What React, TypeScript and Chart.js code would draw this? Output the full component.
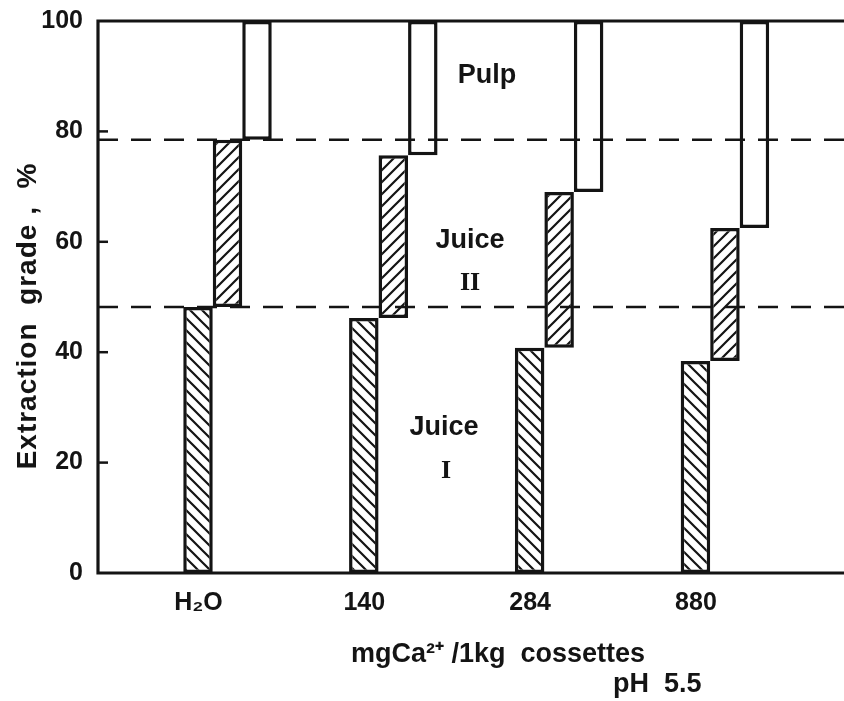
import { useEffect, useRef } from 'react';
import { Chart, registerables } from 'chart.js';

Chart.register(...registerables);

// ---------- data ----------
const categories = ['H₂O', '140', '284', '880'];
const juiceITop = [48.2, 46.2, 40.8, 38.4];
const juiceIITop = [78.5, 75.7, 69.0, 62.5];
const pulpTop = [100, 100, 100, 100];
const yTickValues = [0, 20, 40, 60, 80, 100];
const referenceLines = [48.2, 78.5];
const yTitle = 'Extraction  grade ,  %';
const xTitle = 'mgCa²⁺ /1kg  cossettes';
const noteText = 'pH  5.5';
const regionText = ['Pulp', 'Juice', 'II', 'Juice', 'I'];
const regionX = [2.565, 2.463, 2.463, 2.306, 2.318];
const regionY = [88.8, 58.9, 51.3, 25.0, 17.2];

const INK = '#141414';
const FONT = "'Liberation Sans', Arial, sans-serif";

function hatch(dir: 'fwd' | 'back'): CanvasPattern | string {
  const s = 12;
  const c = document.createElement('canvas');
  c.width = s;
  c.height = s;
  const g = c.getContext('2d');
  if (!g) return '#fff';
  g.fillStyle = '#fff';
  g.fillRect(0, 0, s, s);
  g.strokeStyle = INK;
  g.lineWidth = 2.2;
  g.beginPath();
  if (dir === 'fwd') {
    g.moveTo(-2, s + 2); g.lineTo(s + 2, -2);
    g.moveTo(-2, 2); g.lineTo(2, -2);
    g.moveTo(s - 2, s + 2); g.lineTo(s + 2, s - 2);
  } else {
    g.moveTo(-2, -2); g.lineTo(s + 2, s + 2);
    g.moveTo(s - 2, -2); g.lineTo(s + 2, 2);
    g.moveTo(-2, s - 2); g.lineTo(2, s + 2);
  }
  g.stroke();
  const p = g.createPattern(c, 'repeat');
  return p || '#fff';
}

const overlayPlugin = {
  id: 'overlay',
  afterDatasetsDraw(chart: any) {
    const { ctx, chartArea: a, scales } = chart;
    const x = scales.x;
    const y = scales.y;
    ctx.save();
    ctx.strokeStyle = INK;
    // dashed reference lines
    ctx.lineWidth = 2.6;
    ctx.setLineDash([20, 13]);
    referenceLines.forEach((v) => {
      const py = y.getPixelForValue(v);
      ctx.beginPath();
      ctx.moveTo(a.left, py);
      ctx.lineTo(a.right, py);
      ctx.stroke();
    });
    ctx.setLineDash([]);
    // frame: top, left, bottom
    ctx.lineWidth = 3.2;
    ctx.beginPath();
    ctx.moveTo(a.right, a.top);
    ctx.lineTo(a.left, a.top);
    ctx.lineTo(a.left, a.bottom);
    ctx.lineTo(a.right, a.bottom);
    ctx.stroke();
    // inward tick marks
    ctx.lineWidth = 2.5;
    yTickValues.forEach((v) => {
      if (v === 0 || v === 100) return;
      const py = y.getPixelForValue(v);
      ctx.beginPath();
      ctx.moveTo(a.left, py);
      ctx.lineTo(a.left + 10, py);
      ctx.stroke();
    });
    // region labels
    ctx.fillStyle = INK;
    ctx.textAlign = 'center';
    ctx.textBaseline = 'alphabetic';
    regionText.forEach((t, i) => {
      ctx.font = t.startsWith('I') ? `bold 26px 'Liberation Serif', serif` : `bold 27px ${FONT}`;
      ctx.fillText(t, x.getPixelForValue(regionX[i]), y.getPixelForValue(regionY[i]));
    });
    ctx.restore();
  },
  afterDraw(chart: any) {
    const { ctx, chartArea: a } = chart;
    ctx.save();
    ctx.fillStyle = INK;
    ctx.font = `bold 27px ${FONT}`;
    ctx.textAlign = 'left';
    ctx.textBaseline = 'alphabetic';
    ctx.fillText(xTitle, a.left + 253, a.bottom + 89);
    ctx.fillText(noteText, a.left + 515, a.bottom + 119);
    // y title
    ctx.translate(28, 316);
    ctx.rotate(-Math.PI / 2);
    ctx.textAlign = 'center';
    ctx.textBaseline = 'middle';
    ctx.font = `bold 28px ${FONT}`;
    try { (ctx as any).letterSpacing = '1px'; } catch (e) { /* ignore */ }
    ctx.fillText(yTitle, 0, 0);
    ctx.restore();
  },
};

export default function App() {
  const ref = useRef<HTMLCanvasElement | null>(null);

  useEffect(() => {
    if (!ref.current) return;
    const fwd = hatch('fwd');
    const back = hatch('back');
    const common = {
      borderColor: INK,
      borderWidth: 3.5,
      borderSkipped: false as const,
      barThickness: 29.5,
      inflateAmount: 0,
    };
    const chart = new Chart(ref.current, {
      type: 'bar',
      data: {
        datasets: [
          {
            label: 'Juice I',
            data: categories.map((_, i) => ({ x: i + 1, y: [0, juiceITop[i]] })) as any,
            backgroundColor: back as any,
            ...common,
          },
          {
            label: 'Juice II',
            data: categories.map((_, i) => ({ x: i + 1, y: [juiceITop[i], juiceIITop[i]] })) as any,
            backgroundColor: fwd as any,
            ...common,
          },
          {
            label: 'Pulp',
            data: categories.map((_, i) => ({ x: i + 1, y: [juiceIITop[i], pulpTop[i]] })) as any,
            backgroundColor: '#ffffff',
            ...common,
          },
        ],
      },
      options: {
        animation: false,
        responsive: false,
        devicePixelRatio: 1,
        layout: { padding: { left: 0, top: 21, right: 0, bottom: 0 } },
        plugins: { legend: { display: false }, tooltip: { enabled: false } },
        scales: {
          x: {
            type: 'linear',
            min: 0.219,
            max: 4.718,
            offset: false,
            grid: { display: false, drawTicks: false },
            border: { display: false },
            afterBuildTicks: (scale: any) => {
              scale.ticks = categories.map((_, i) => ({ value: i + 1 }));
            },
            afterFit: (scale: any) => {
              scale.height = 128;
              scale.paddingLeft = 0;
              scale.paddingRight = 0;
            },
            ticks: {
              autoSkip: false,
              maxRotation: 0,
              padding: 15,
              labelOffset: -29,
              color: INK,
              font: { family: FONT, size: 25, weight: 'bold' },
              callback: (v: any) => categories[Math.round(Number(v)) - 1] ?? '',
            },
          },
          y: {
            min: 0,
            max: 100,
            grid: { display: false, drawTicks: false },
            border: { display: false },
            afterBuildTicks: (scale: any) => {
              scale.ticks = yTickValues.map((v) => ({ value: v }));
            },
            afterFit: (scale: any) => {
              scale.width = 98;
              scale.paddingTop = 0;
              scale.paddingBottom = 0;
            },
            ticks: {
              padding: 15,
              color: INK,
              font: { family: FONT, size: 25, weight: 'bold' },
            },
          },
        },
      },
      plugins: [overlayPlugin],
    });
    return () => chart.destroy();
  }, []);

  return (
    <div style={{ position: 'fixed', left: 0, top: 0, width: 844, height: 701, background: '#fff' }}>
      <canvas ref={ref} width={844} height={701} style={{ display: 'block' }} />
    </div>
  );
}
